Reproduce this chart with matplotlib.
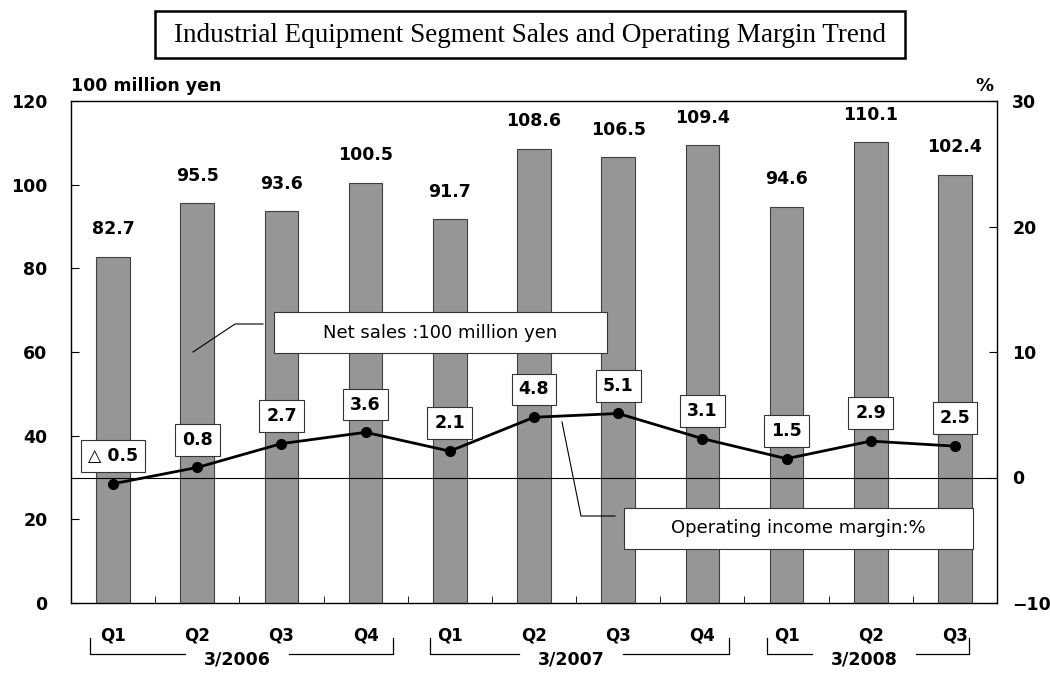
import numpy as np
import matplotlib
matplotlib.use("Agg")
import matplotlib.pyplot as plt
from matplotlib.patches import Rectangle
from matplotlib.lines import Line2D

quarters = ["Q1", "Q2", "Q3", "Q4", "Q1", "Q2", "Q3", "Q4", "Q1", "Q2", "Q3"]
sales = [82.7, 95.5, 93.6, 100.5, 91.7, 108.6, 106.5, 109.4, 94.6, 110.1, 102.4]
margin = [-0.5, 0.8, 2.7, 3.6, 2.1, 4.8, 5.1, 3.1, 1.5, 2.9, 2.5]
years = ["3/2006", "3/2007", "3/2008"]
# bracket spans (category index) and where the year label sits
year_spans = [(-0.27, 3.32), (3.77, 7.32), (7.77, 10.17)]
year_centers = [1.47, 5.44, 8.92]

W, H = 1050, 675
fig = plt.figure(figsize=(W / 100, H / 100), dpi=100)


def fx(x):
    return x / W


def fy(y):
    return 1 - y / H


ax = fig.add_axes([fx(71), fy(603), (997 - 71) / W, (603 - 101) / H])
x = np.arange(len(sales))
ax.bar(x, sales, width=0.4, color="#969696", edgecolor="#404040", linewidth=0.8, zorder=2)
ax.set_xlim(-0.5, len(sales) - 0.5)
ax.set_ylim(0, 120)
ax.set_yticks(range(0, 121, 20))
ax.set_xticks(x)
ax.set_xticklabels(quarters, fontsize=12, fontweight="bold")
ax.set_xticks(np.arange(0.5, len(sales) - 0.5, 1), minor=True)
ax.tick_params(axis="x", which="major", length=0, pad=17)
ax.tick_params(axis="x", which="minor", direction="in", length=5)
ax.tick_params(axis="y", direction="in", length=6, pad=17, labelsize=12.5)
for lab in ax.get_yticklabels():
    lab.set_fontweight("bold")
for s in ax.spines.values():
    s.set_color("#333333")
    s.set_linewidth(1)

for xi, v in zip(x, sales):
    ax.annotate(f"{v:.1f}", (xi, v), xytext=(0, 20), textcoords="offset points",
                ha="center", va="center", fontsize=12.5, fontweight="bold", zorder=5)

ax2 = ax.twinx()
ax2.set_ylim(-10, 30)
ax2.set_yticks(range(-10, 31, 10))
ax2.tick_params(axis="y", direction="in", length=6, pad=11, labelsize=12.5)
ax2.set_yticklabels(["\u221210", "0", "10", "20", "30"], fontweight="bold")
ax2.axhline(0, color="black", linewidth=0.8, zorder=1)
ax2.plot(x, margin, color="black", linewidth=2, marker="o", markersize=7, zorder=4)
for xi, v in zip(x, margin):
    txt = f"\u25b3 {abs(v):.1f}" if v < 0 else f"{v:.1f}"
    ax2.annotate(txt, (xi, v), xytext=(0, 20), textcoords="offset points",
                 ha="center", va="center", fontsize=12.5, fontweight="bold", zorder=6,
                 bbox=dict(boxstyle="square,pad=0.4", fc="white", ec="#333333", lw=0.8))

# unit labels
fig.text(fx(71), fy(86), "100 million yen", fontsize=12.5, fontweight="bold", ha="left", va="center")
fig.text(fx(993), fy(86), "%", fontsize=13, fontweight="bold", ha="right", va="center")

# year brackets under quarters, with a gap for the label
trans = ax.get_xaxis_transform()
gap = 0.62
y_top, y_bot = -0.0697, -0.1016
for name, (a, b), c in zip(years, year_spans, year_centers):
    ax.plot([a, a, c - gap], [y_top, y_bot, y_bot], transform=trans,
            color="black", linewidth=0.9, clip_on=False)
    ax.plot([c + gap, b, b], [y_bot, y_bot, y_top], transform=trans,
            color="black", linewidth=0.9, clip_on=False)
    ax.text(c, -0.113, name, transform=trans, ha="center", va="center", fontsize=12.5,
            fontweight="bold")

# title box
fig.patches.append(Rectangle((fx(155), fy(58)), (905 - 155) / W, (58 - 11) / H,
                             transform=fig.transFigure, fc="white", ec="black", lw=1.8))
fig.text(fx(530), fy(35), "Industrial Equipment Segment Sales and Operating Margin Trend",
         family="Liberation Serif", fontsize=19.5, ha="center", va="center")

# callouts
fig.patches.append(Rectangle((fx(274), fy(353)), (607 - 274) / W, (353 - 312) / H,
                             transform=fig.transFigure, fc="white", ec="#333333", lw=0.8, zorder=10))
fig.text(fx(440), fy(333), "Net sales :100 million yen", fontsize=13, ha="center", va="center", zorder=11)
fig.lines.append(Line2D([fx(193), fx(235), fx(263)], [fy(352), fy(324), fy(324)],
                        transform=fig.transFigure, color="black", lw=0.8, zorder=10))

fig.patches.append(Rectangle((fx(624), fy(549)), (973 - 624) / W, (549 - 508) / H,
                             transform=fig.transFigure, fc="white", ec="#333333", lw=0.8, zorder=10))
fig.text(fx(798), fy(528), "Operating income margin:%", fontsize=13, ha="center", va="center", zorder=11)
fig.lines.append(Line2D([fx(562), fx(581), fx(615)], [fy(422), fy(516), fy(516)],
                        transform=fig.transFigure, color="black", lw=0.8, zorder=10))

fig.savefig("out.png", dpi=100)
